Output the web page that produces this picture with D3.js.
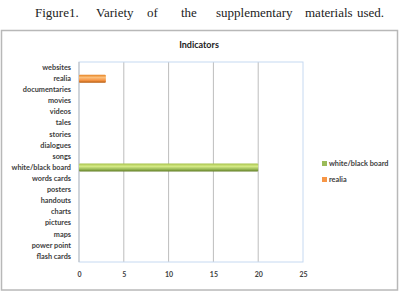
<!DOCTYPE html>
<html>
<head>
<meta charset="utf-8">
<script src="https://cdn.jsdelivr.net/npm/d3@7"></script>
<style>
  body { margin: 0; background: #fff; }
  svg { display: block; }
</style>
</head>
<body>
<div id="chart"></div>
<script>
// ─── Daten ────────────────────────────────────────────────────────────────────
const categories = ['websites', 'realia', 'documentaries', 'movies', 'videos', 'tales',
  'stories', 'dialogues', 'songs', 'white/black board', 'words cards', 'posters',
  'handouts', 'charts', 'pictures', 'maps', 'power point', 'flash cards'];
const seriesNames = ['white/black board', 'realia'];
const boardValues = [0, 0, 0, 0, 0, 0, 0, 0, 0, 20, 0, 0, 0, 0, 0, 0, 0, 0];
const realiaValues = [0, 3, 0, 0, 0, 0, 0, 0, 0, 0, 0, 0, 0, 0, 0, 0, 0, 0];
const xTicks = [0, 5, 10, 15, 20, 25];
const captionWords = ['Figure1.', 'Variety', 'of', 'the', 'supplementary', 'materials', 'used.'];

// ─── Layout ───────────────────────────────────────────────────────────────────
const W = 399, H = 292;
const plot = { left: 79, right: 303, top: 62, bottom: 262 };
const labelFont = 'Lato, "Open Sans", sans-serif';
const captionX = [35, 96, 147, 181, 216, 305, 357];   // Blocksatz-Positionen

const svg = d3.select('#chart').append('svg')
  .attr('width', W).attr('height', H);

// Überschrift
svg.append('g').selectAll('text')
  .data(captionWords)
  .enter().append('text')
    .attr('x', (d, i) => captionX[i])
    .attr('y', 17)
    .attr('font-family', '"Liberation Serif", serif')
    .attr('font-size', 13)
    .attr('fill', '#222')
    .text(d => d);

// Rahmen
svg.append('rect')
  .attr('x', 1.5).attr('y', 30.5).attr('width', 396).attr('height', 259.5)
  .attr('fill', '#fff').attr('stroke', '#b8b8b8').attr('stroke-width', 1.5);

// Titel
svg.append('text')
  .attr('x', 199).attr('y', 48)
  .attr('text-anchor', 'middle')
  .attr('font-family', labelFont).attr('font-weight', 'bold')
  .attr('font-size', 9).attr('fill', '#222')
  .text('Indicators');

// Skalen
const x = d3.scaleLinear().domain([0, 25]).range([plot.left, plot.right]);
const y = d3.scaleBand().domain(categories).range([plot.top, plot.bottom]).paddingInner(0.28).paddingOuter(0.14);

// Gitterlinien
svg.append('g').selectAll('line')
  .data(xTicks.slice(1, -1))
  .enter().append('line')
    .attr('x1', d => x(d)).attr('x2', d => x(d))
    .attr('y1', plot.top).attr('y2', plot.bottom)
    .attr('stroke', '#bdbdbd').attr('stroke-width', 1);

// Plotbereich-Rand
svg.append('rect')
  .attr('x', plot.left).attr('y', plot.top)
  .attr('width', plot.right - plot.left).attr('height', plot.bottom - plot.top)
  .attr('fill', 'none').attr('stroke', '#c6d9f1').attr('stroke-width', 1);
svg.append('line')
  .attr('x1', plot.left).attr('x2', plot.left)
  .attr('y1', plot.top).attr('y2', plot.bottom)
  .attr('stroke', '#bdbdbd');

// Achsen
const yAxis = svg.append('g')
  .attr('transform', `translate(${plot.left},0)`)
  .call(d3.axisLeft(y).tickSize(0).tickPadding(8));
const xAxis = svg.append('g')
  .attr('transform', `translate(0,${plot.bottom})`)
  .call(d3.axisBottom(x).tickValues(xTicks).tickSize(0).tickPadding(10));
[yAxis, xAxis].forEach(a => {
  a.select('.domain').remove();
  a.selectAll('text')
    .attr('font-family', labelFont).attr('font-weight', 'bold')
    .attr('font-size', 7.3).attr('fill', '#404040');
});
xAxis.selectAll('text').attr('font-size', 7);

// Gradienten (Zylinder-Look)
const defs = svg.append('defs');
const grad = (id, stops) => {
  const g = defs.append('linearGradient').attr('id', id)
    .attr('x1', 0).attr('y1', 0).attr('x2', 0).attr('y2', 1);
  stops.forEach(([o, c]) => g.append('stop').attr('offset', o).attr('stop-color', c));
};
grad('gGreen', [[0, '#a6c24a'], [0.35, '#d6eb86'], [0.7, '#9bbb59'], [1, '#5f7a22']]);
grad('gOrange', [[0, '#e5801e'], [0.35, '#fbbf7c'], [0.7, '#f79646'], [1, '#b75b0d']]);

const series = [
  { name: seriesNames[0], values: boardValues, fill: 'url(#gGreen)', swatch: '#9bbb59' },
  { name: seriesNames[1], values: realiaValues, fill: 'url(#gOrange)', swatch: '#f79646' },
];

series.forEach(s => {
  svg.append('g').selectAll('rect')
    .data(categories.map((c, i) => ({ c, v: s.values[i] })).filter(d => d.v > 0))
    .enter().append('rect')
      .attr('x', x(0))
      .attr('y', d => y(d.c))
      .attr('width', d => x(d.v) - x(0))
      .attr('height', y.bandwidth())
      .attr('rx', 1)
      .attr('fill', s.fill);
});

// Legende
const leg = svg.append('g').selectAll('g')
  .data(series)
  .enter().append('g')
    .attr('transform', (d, i) => `translate(322,${166 + i * 16})`);
leg.append('rect')
  .attr('width', 5).attr('height', 5).attr('y', -5)
  .attr('fill', d => d.swatch);
leg.append('text')
  .attr('x', 7).attr('y', 0)
  .attr('font-family', labelFont).attr('font-weight', 'bold')
  .attr('font-size', 7.3).attr('fill', '#404040')
  .text(d => d.name);
</script>
</body>
</html>
